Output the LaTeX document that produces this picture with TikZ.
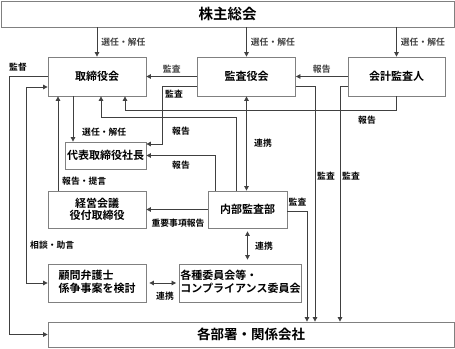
\documentclass[tikz,border=0pt]{standalone}
\usepackage{fontspec}
\setmainfont{Noto Sans CJK JP}[BoldFont={* Bold}]
\usepackage{tikz}
\usetikzlibrary{positioning, arrows.meta, calc}

\begin{document}
\begin{tikzpicture}[
  x=1pt, y=-1pt,
  font=\bfseries\fontsize{11}{12.5}\selectfont,
  box/.style={draw=black!50, line width=0.8pt, fill=white, inner sep=1pt, align=center},
  lbl/.style={font=\bfseries\fontsize{8.8}{10}\selectfont, inner sep=1pt},
  flow/.style={-{Triangle[length=4.5pt, width=4.5pt]}, black!75, line width=0.8pt},
  both/.style={{Triangle[length=4.5pt, width=4.5pt]}-{Triangle[length=4.5pt, width=4.5pt]}, black!75, line width=0.8pt}
]
  \useasboundingbox (0,0) rectangle (455,348);

  \node[box, minimum width=453pt, minimum height=26pt, font=\bfseries\fontsize{14.5}{16}\selectfont]
        (soukai) at (227.5,14) {株主総会};
  \node[box, minimum width=98pt, minimum height=39pt] (tori)   at (97,76.5)    {取締役会};
  \node[box, minimum width=98pt, minimum height=39pt] (kansa)  at (246.5,76.5) {監査役会};
  \node[box, minimum width=97pt, minimum height=39pt] (kaikei) at (396.5,76.5) {会計監査人};
  \node[box, minimum width=81pt, minimum height=27pt] (shacho) at (105.5,155.5) {代表取締役社長};
  \node[box, minimum width=98pt, minimum height=37pt] (keiei)  at (97,209.5)   {経営会議\\役付取締役};
  \node[box, minimum width=79pt, minimum height=37pt] (naibu)  at (247.5,209.5) {内部監査部};
  \node[box, minimum width=98pt, minimum height=38pt] (komon)  at (97,283)
        {\begin{tabular}{@{}l@{}}顧問弁護士\\係争事案を検討\end{tabular}};
  \node[box, minimum width=117pt, minimum height=38pt] (iinkai) at (240.5,283)
        {\begin{tabular}{@{}l@{}}各種委員会等・\\コンプライアンス委員会\end{tabular}};
  \node[box, minimum width=406pt, minimum height=25pt, font=\bfseries\fontsize{13.5}{15}\selectfont]
        (busho) at (251,334.5) {各部署・関係会社};

  % election by shareholders
  \draw[flow] (soukai.south -| tori.north)   -- node[lbl, right=3pt] (s1) {選任・解任} (tori.north);
  \draw[flow] (soukai.south -| kansa.north)  -- node[lbl, right=3pt] (s2) {選任・解任} (kansa.north);
  \draw[flow] (soukai.south -| kaikei.north) -- node[lbl, right=3pt] (s3) {選任・解任} (kaikei.north);

  \draw[flow] (kansa.west)  -- node[lbl, above=2pt] (a1) {監査} (tori.east);
  \draw[flow] (kaikei.west) -- node[lbl, above=2pt] (r1) {報告} (kansa.east);

  % supervision
  \draw[flow] (tori.west) -- ++(-38,0) |- (busho.west);
  \node[lbl] (k1) at (18,67) {監督};
  % consultation
  \draw[both] ([yshift=-10.5pt]tori.west) -- ++(-21,0) |- (komon.west);
  \node[lbl, anchor=west] (c1) at (29,245) {相談・助言};

  \draw[flow] ([xshift=-39pt]keiei.north) -- ([xshift=-39pt]tori.south);
  \node[lbl, anchor=west] (h1) at (61,181) {報告・提言};
  \draw[flow] ([xshift=-24pt]tori.south) -- ([xshift=-24pt]tori.south |- shacho.north);
  \node[lbl, anchor=west] (s4) at (81,132) {選任・解任};

  % audit / reports to president
  \draw[flow] ([yshift=-9.5pt]kansa.west) -- ++(-35,0) |- ([yshift=11.5pt]shacho.east);
  \node[lbl, anchor=west] (a2) at (164,94) {監査};
  \draw[flow] ([xshift=-32.5pt]naibu.north) |- (shacho.east);
  \node[lbl] (r2) at (181,165) {報告};
  \draw[flow] ([xshift=-11.5pt]naibu.north) -- ++(0,-73) -| ([xshift=4pt]tori.south);
  \node[lbl] (r3) at (181,131) {報告};
  \draw[flow] (kaikei.south) -- ++(0,14) -| ([xshift=28pt]tori.south);
  \node[lbl] (r4) at (367,120) {報告};

  \draw[both] (kansa.south) -- (kansa.south |- naibu.north);
  \node[lbl, anchor=west] (l1) at (253,143) {連携};

  % audits of departments
  \draw[flow] ([yshift=-9.5pt]kansa.east)  -| ([xshift=64pt]busho.north);
  \node[lbl, anchor=west] (a3) at (316,176) {監査};
  \draw[flow] ([yshift=-9.5pt]kaikei.west) -| ([xshift=89pt]busho.north);
  \node[lbl, anchor=west] (a4) at (341,176) {監査};
  \draw[flow] ([yshift=-1.5pt]naibu.east)  -| ([xshift=56pt]busho.north);
  \node[lbl] (a5) at (297.5,202) {監査};

  \draw[flow] (naibu.west) -- (keiei.east);
  \node[lbl] (r5) at (178,223) {重要事項報告};

  \draw[both] ([yshift=-3pt]naibu.south) -- ([yshift=4pt]naibu.south |- iinkai.north);
  \node[lbl, anchor=west] (l2) at (254,246) {連携};
  \draw[both] ([xshift=3pt]komon.east) -- ([xshift=-3pt]iinkai.west);
  \node[lbl] (l3) at (165,296) {連携};
\end{tikzpicture}
\end{document}
